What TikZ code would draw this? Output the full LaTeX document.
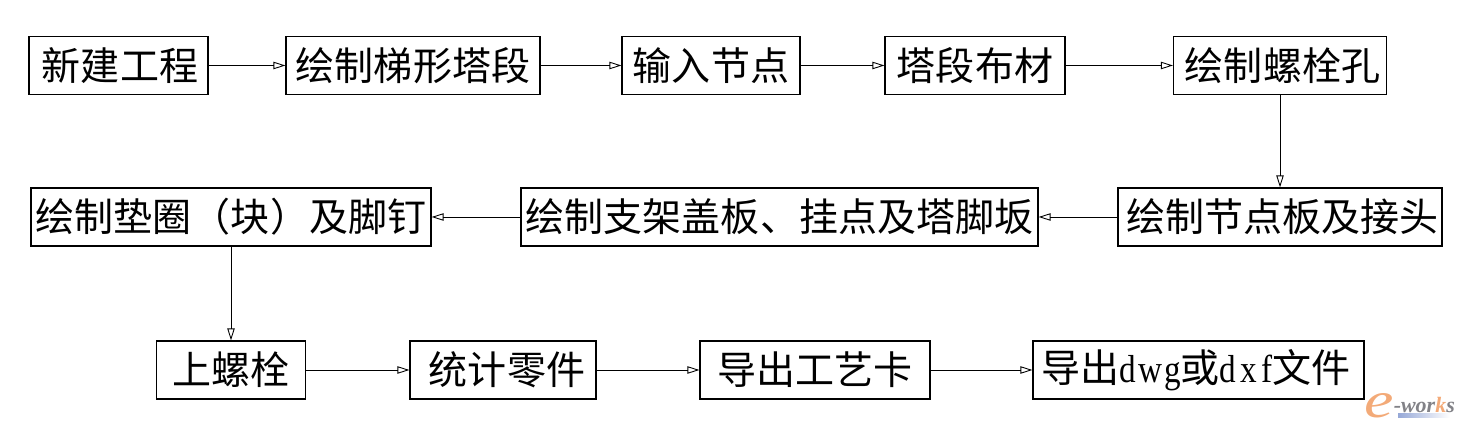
\documentclass[tikz,border=0pt]{standalone}
\usepackage{fontspec}
\setmainfont{Noto Sans CJK SC}
\newfontfamily\dwgfont[FakeStretch=0.85,LetterSpace=5]{Liberation Serif}
\newfontfamily\dxffont[FakeStretch=0.85,LetterSpace=11]{Liberation Serif}
\newfontfamily\logoefont[FakeStretch=1.3]{Liberation Serif}
\newfontfamily\logofont{Liberation Serif}
\usetikzlibrary{arrows.meta}
\tikzset{>={Triangle[open,length=6.8pt,width=4.2pt]}}
\tikzset{stepbox/.style={draw=black,line width=0.7pt,minimum height=1.16cm,inner sep=0pt,font=\fontsize{22.2pt}{24pt}\selectfont}}
\tikzset{flow/.style={->,black,line width=0.5pt}}
\definecolor{logoorange}{RGB}{243,170,120}
\definecolor{logogrey}{RGB}{130,130,135}
\definecolor{logoblue}{RGB}{150,168,215}

\begin{document}
\begin{tikzpicture}
            \useasboundingbox (0,0) rectangle (29.24,8.58);

            \node[stepbox,minimum width=3.58cm] (new) at(2.37,7.27) {\hspace*{0.06cm}新建工程};
            \node[stepbox,minimum width=5.08cm] (ladder) at(8.26,7.27) {绘制梯形塔段};
            \node[stepbox,minimum width=3.56cm] (joint) at(14.22,7.27) {输入节点};
            \node[stepbox,minimum width=3.6cm] (member) at(19.5,7.27) {塔段布材};
            \node[stepbox,minimum width=4.26cm] (hole) at(25.6,7.27) {\hspace*{0.1cm}绘制螺栓孔};

            \node[stepbox,minimum width=6.48cm] (plate) at(25.6,4.24) {\hspace*{0.1cm}绘制节点板及接头};
            \node[stepbox,minimum width=10.34cm] (cover) at(15.59,4.24) {绘制支架盖板、挂点及塔脚坂};
            \node[stepbox,minimum width=8cm] (washer) at(4.62,4.24) {绘制垫圈（块）及脚钉};

            \node[stepbox,minimum width=2.98cm] (bolt) at(4.62,1.18) {上螺栓};
            \node[stepbox,minimum width=3.72cm] (parts) at(10.06,1.18) {\hspace*{0.16cm}统计零件};
            \node[stepbox,minimum width=4.6cm] (card) at(16.3,1.18) {导出工艺卡};
            \node[stepbox,minimum width=6.62cm] (file) at(23.97,1.18) {导出{\dwgfont dwg}或{\dxffont dxf}文件\hspace*{0.1cm}};

            \draw[flow] (new) -- (ladder);
            \draw[flow] (ladder) -- (joint);
            \draw[flow] (joint) -- (member);
            \draw[flow] (member) -- (hole);
            \draw[flow] (hole) -- (plate);
            \draw[flow] (plate) -- (cover);
            \draw[flow] (cover) -- (washer);
            \draw[flow] (washer) -- (bolt);
            \draw[flow] (bolt) -- (parts);
            \draw[flow] (parts) -- (card);
            \draw[flow] (card) -- (file);

            % logo
            \shade[left color=logoblue,right color=white] (27.96,0.22) rectangle (29,0.3);
            \node[inner sep=0pt,anchor=base west] (logo) at(27.28,0.22) {{\logoefont\itshape\fontsize{29pt}{30pt}\selectfont\color{logoorange}e}\raisebox{3.4pt}{\logofont\bfseries\itshape\fontsize{12.5pt}{14pt}\selectfont\color{logogrey}-wor{\color{logoorange}k}s}};
        \end{tikzpicture}
\end{document}
